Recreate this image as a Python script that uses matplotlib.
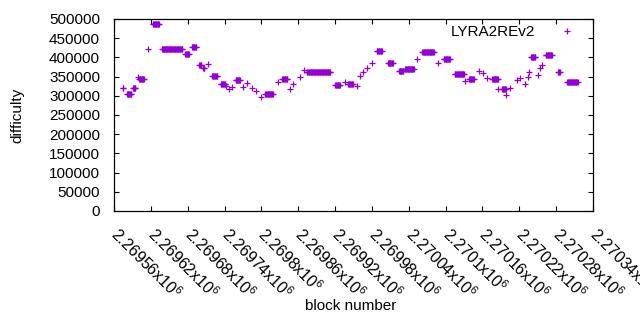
import numpy as np
import matplotlib
matplotlib.use("Agg")
import matplotlib.pyplot as plt
from matplotlib.transforms import ScaledTranslation

plt.rcParams['font.family'] = ['Liberation Sans', 'DejaVu Sans']
plt.rcParams['mathtext.default'] = 'regular'

# difficulty runs: first block, last block, difficulty
base_block = 2269560
run_first = [14, 21, 31, 39, 41, 56, 63, 78, 116, 127, 139, 145, 153, 160, 174,
             183, 187, 192, 198, 210, 216, 224, 232, 240, 246, 267, 274, 287, 292,
             303, 309, 314, 360, 376, 381, 395, 401, 405, 412, 420, 428, 446, 464,
             474, 493, 502, 528, 537, 555, 572, 578, 595, 601, 608, 616, 626, 632,
             639, 645, 656, 661, 669, 674, 676, 679, 690, 693, 697, 703, 723, 738]
run_last = [15, 28, 35, 39, 49, 56, 73, 111, 122, 134, 142, 147, 153, 168, 181,
            183, 187, 192, 205, 210, 216, 224, 232, 240, 259, 267, 282, 287, 292,
            303, 309, 352, 368, 376, 389, 395, 401, 405, 412, 420, 436, 454, 471,
            488, 493, 521, 528, 547, 570, 572, 586, 595, 601, 608, 625, 626, 638,
            639, 645, 656, 661, 669, 674, 676, 686, 690, 693, 697, 713, 726, 755]
run_diff = [320000, 304000, 320000, 350000, 345000, 422000, 487000, 421000, 408000,
            426000, 380000, 372000, 382000, 352000, 332000, 326000, 318000, 323000,
            341000, 324000, 334000, 321000, 312000, 296000, 304000, 337000, 343000,
            318000, 332000, 348000, 366000, 361000, 327000, 337000, 332000, 326000,
            352000, 363000, 372000, 385000, 417000, 385000, 365000, 371000, 395000,
            413000, 385000, 395000, 357000, 339000, 345000, 365000, 359000, 346000,
            343000, 319000, 318000, 302000, 320000, 341000, 346000, 332000, 349000,
            362000, 402000, 354000, 372000, 380000, 406000, 361000, 335000]

x_ticks = list(range(2269560, 2270341, 60))
y_ticks = list(range(0, 500001, 50000))

blocks = []
diffs = []
for a, b, d in zip(run_first, run_last, run_diff):
    for k in range(a, b + 1):
        blocks.append(base_block + k)
        diffs.append(d)

fig = plt.figure(figsize=(6.4, 3.3), dpi=100)
ax = fig.add_axes([114 / 640, 1 - 211 / 330, 479 / 640, 192 / 330])

ax.plot(blocks, diffs, '+', color='#9400d3', ms=5, mew=0.9, label='LYRA2REv2')

ax.set_xlim(x_ticks[0], x_ticks[-1])
ax.set_ylim(0, 500000)
ax.set_xticks(x_ticks)
ax.set_yticks(y_ticks)
ax.set_xticklabels([f'{v / 1e6:g}x10$^{{6}}$' for v in x_ticks], fontsize=11.5,
                   rotation=-45, ha='left', va='top', rotation_mode='anchor')
ax.set_yticklabels([str(v) for v in y_ticks])
ax.tick_params(direction='in', length=3.5, width=0.8, top=True, right=True,
               labelsize=11, colors='black')
ax.tick_params(axis='y', pad=10)
ax.tick_params(axis='x', pad=8, labelsize=11.5)
# nudge the slanted labels so they start right under their tick
shift = ScaledTranslation(0.065, -0.02, fig.dpi_scale_trans)
for lab in ax.get_xticklabels():
    lab.set_transform(lab.get_transform() + shift)
for s in ax.spines.values():
    s.set_linewidth(0.9)

ax.set_xlabel('block number', fontsize=11, va='center')
ax.xaxis.set_label_coords((350.5 - 114) / 479, (211 - 306) / 192)
ax.set_ylabel('difficulty', fontsize=11, va='center')
ax.yaxis.set_label_coords((17.5 - 114) / 479, (211 - 115.5) / 192)

ax.legend(loc='center right', bbox_to_anchor=((582 - 114) / 479, (211 - 32) / 192),
          frameon=False, markerfirst=False, fontsize=11, borderpad=0,
          borderaxespad=0, handlelength=2, handletextpad=1.07)

fig.savefig('out.png', dpi=100)
